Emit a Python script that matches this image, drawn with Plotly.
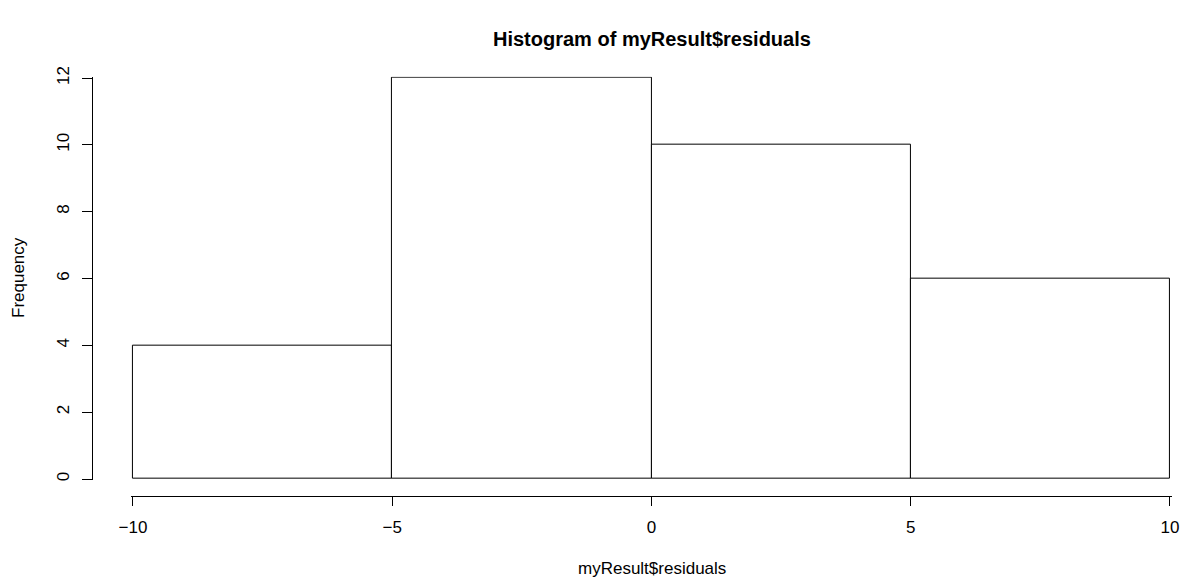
import plotly.graph_objects as go

bin_starts = [-10, -5, 0, 5]
bin_width = 5
counts = [4, 12, 10, 6]
x_ticks = [-10, -5, 0, 5, 10]
x_tick_labels = ["\u221210", "\u22125", "0", "5", "10"]
y_ticks = [0, 2, 4, 6, 8, 10, 12]

W, H = 1182, 578
FONT = "Liberation Sans, Arial, Helvetica, sans-serif"

centers = [s + bin_width / 2 for s in bin_starts]

fig = go.Figure()
fig.add_trace(go.Bar(
    x=centers, y=counts, width=[bin_width] * len(counts),
    marker=dict(color="white", line=dict(color="black", width=1)),
    hoverinfo="x+y", showlegend=False,
))

def px_x(p):
    return p / W

def px_y(p):
    return (H - p) / H

# small padding so bar outlines on the range edges are not clipped
xpad, ypad = 0.04, 0.04
x_ppu = (1170 - 133) / 20.0
y_ppu = (479 - 78) / 12.0

fig.update_layout(
    width=W, height=H,
    margin=dict(l=0, r=0, t=0, b=0, autoexpand=False),
    paper_bgcolor="white", plot_bgcolor="white",
    font=dict(family=FONT, size=17, color="black"),
    bargap=0,
    xaxis=dict(
        domain=[px_x(133 - xpad * x_ppu), px_x(1170 + xpad * x_ppu)],
        range=[-10 - xpad, 10 + xpad],
        anchor="free", position=px_y(496), automargin=False,
        showline=True, linecolor="black", linewidth=1,
        ticks="outside", ticklen=9, tickcolor="black", tickwidth=1,
        tickvals=x_ticks, ticktext=x_tick_labels,
        showgrid=False, zeroline=False, ticklabelstandoff=7,
    ),
    yaxis=dict(
        domain=[px_y(479 + ypad * y_ppu), px_y(78 - ypad * y_ppu)],
        range=[0 - ypad, 12 + ypad],
        anchor="free", position=px_x(92), automargin=False,
        showline=True, linecolor="black", linewidth=1,
        ticks="outside", ticklen=10, tickcolor="black", tickwidth=1,
        tickvals=y_ticks, tickangle=-90,
        showgrid=False, zeroline=False, ticklabelstandoff=6,
    ),
    annotations=[
        dict(text="<b>Histogram of myResult$residuals</b>", x=px_x(652), y=px_y(39),
             xref="paper", yref="paper", showarrow=False, xanchor="center", yanchor="middle",
             font=dict(size=20, family=FONT)),
        dict(text="myResult$residuals", x=px_x(652), y=px_y(568),
             xref="paper", yref="paper", showarrow=False, xanchor="center", yanchor="middle",
             font=dict(size=17, family=FONT)),
        dict(text="Frequency", x=px_x(18), y=px_y(278), textangle=-90,
             xref="paper", yref="paper", showarrow=False, xanchor="center", yanchor="middle",
             font=dict(size=17, family=FONT)),
    ],
)

fig.write_html(
    "out.html",
    config={"displayModeBar": False},
    post_script="document.body.style.margin='0';document.body.style.overflow='hidden';",
)
